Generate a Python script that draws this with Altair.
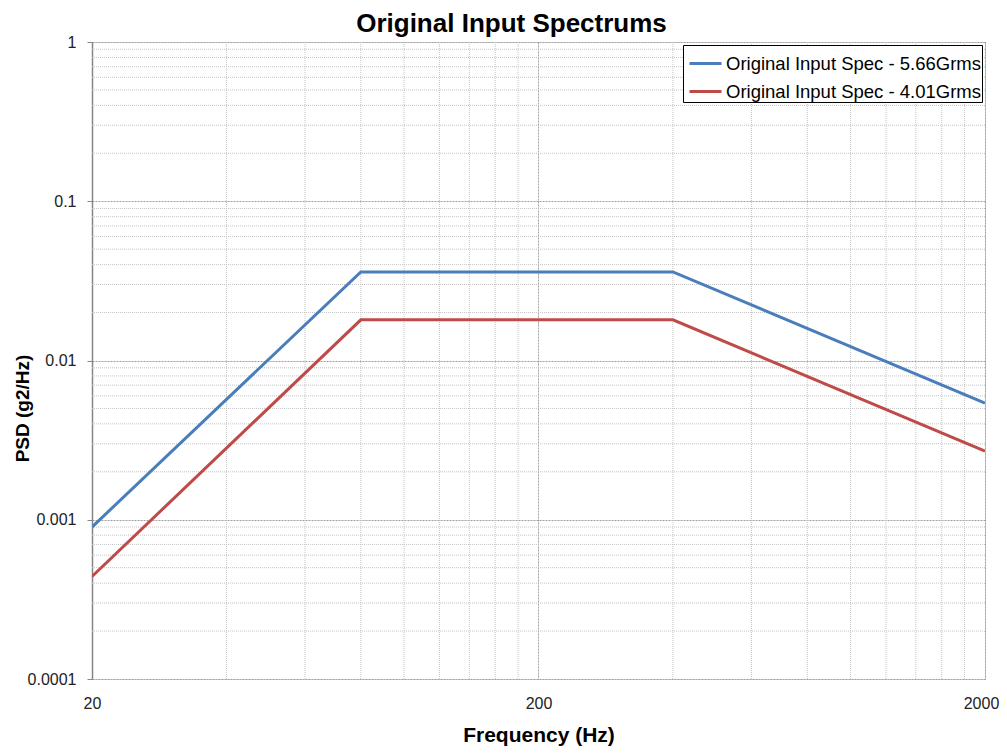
import altair as alt
import pandas as pd

# ---- data ----
freq = [20, 80, 400, 2000]
psd_566 = [0.0009, 0.036, 0.036, 0.0054]
psd_401 = [0.00044, 0.018, 0.018, 0.0027]
series_names = ["Original Input Spec - 5.66Grms", "Original Input Spec - 4.01Grms"]
series_colors = ["#4A7EBB", "#BE4B48"]

x_major = [20, 200, 2000]
x_minor = [40, 60, 80, 100, 120, 140, 160, 180,
           400, 600, 800, 1000, 1200, 1400, 1600, 1800]
y_major = [0.0001, 0.001, 0.01, 0.1, 1]
y_minor = [m * d for d in [0.0001, 0.001, 0.01, 0.1] for m in range(2, 10)]

rows = []
for name, vals in zip(series_names, [psd_566, psd_401]):
    for f, v in zip(freq, vals):
        rows.append({"series": name, "freq": f, "psd": v})
df = pd.DataFrame(rows)
df_xminor = pd.DataFrame({"freq": x_minor})
df_yminor = pd.DataFrame({"psd": y_minor})

FONT = "Liberation Sans"
GRID_MINOR = "#c4c4c4"
GRID_MAJOR = "#a0a0a0"
AXIS_GRAY = "#868686"

x_enc = alt.X(
    "freq:Q",
    scale=alt.Scale(type="log", domain=[20, 2000], nice=False),
    axis=alt.Axis(
        title="Frequency (Hz)",
        values=x_major,
        format="~g",
        grid=True,
        gridColor=GRID_MAJOR,
        gridDash=[2, 1],
        domain=False,
        ticks=False,
        tickSize=0,
        labelPadding=16,
        labelFlush=False,
        labelOffset={"condition": {"test": "datum.value >= 2000", "value": -4}, "value": 0},
        labelFont=FONT,
        labelFontSize=16,
        labelColor="#222222",
        titleFont=FONT,
        titleFontSize=21,
        titleFontWeight="bold",
        titleColor="#000000",
        titleY=62,
        titleBaseline="alphabetic",
    ),
)
y_enc = alt.Y(
    "psd:Q",
    scale=alt.Scale(type="log", domain=[0.0001, 1], nice=False),
    axis=alt.Axis(
        title="PSD (g2/Hz)",
        values=y_major,
        format="~g",
        grid=True,
        gridColor=GRID_MAJOR,
        gridDash=[2, 1],
        domain=True,
        domainColor=AXIS_GRAY,
        domainWidth=1.5,
        ticks=True,
        tickColor=AXIS_GRAY,
        tickSize=5,
        labelPadding=11,
        labelFont=FONT,
        labelFontSize=16,
        labelColor="#222222",
        titleFont=FONT,
        titleFontSize=19,
        titleFontWeight="bold",
        titleColor="#000000",
        titleAngle=270,
        titleX=-70,
        titleY=366,
        titleAlign="center",
        titleBaseline="middle",
    ),
)

xgrid = alt.Chart(df_xminor).mark_rule(
    color=GRID_MINOR, strokeDash=[1, 1], strokeWidth=1
).encode(x=x_enc)

ygrid = alt.Chart(df_yminor).mark_rule(
    color=GRID_MINOR, strokeDash=[1, 1], strokeWidth=1
).encode(y=y_enc)

lines = alt.Chart(df).mark_line(strokeWidth=3, clip=True).encode(
    x=x_enc,
    y=y_enc,
    color=alt.Color(
        "series:N",
        scale=alt.Scale(domain=series_names, range=series_colors),
        legend=alt.Legend(
            title=None,
            orient="none",
            legendX=591,
            legendY=3,
            direction="vertical",
            symbolType="stroke",
            symbolSize=1024,
            symbolStrokeWidth=3,
            symbolOffset=4,
            labelFont=FONT,
            labelFontSize=18.5,
            labelColor="#000000",
            labelOffset=3,
            labelLimit=400,
            rowPadding=1,
            padding=1,
            strokeColor="#000000",
            fillColor="#ffffff",
        ),
    ),
    order=alt.Order("freq:Q"),
)

chart = (
    alt.layer(xgrid, ygrid, lines)
    .properties(
        width=893,
        height=637,
        title=alt.TitleParams(
            "Original Input Spectrums",
            font=FONT,
            fontSize=26,
            fontWeight="bold",
            color="#000000",
            frame="group",
            dx=-27,
            dy=3,
            offset=0,
        ),
        autosize=alt.AutoSizeParams(type="none"),
        padding={"left": 84, "top": 34, "right": 14, "bottom": 67},
    )
    .configure_view(stroke=None)
    .configure(background="#ffffff")
)

chart.save("out.html", embed_options={"renderer": "svg", "actions": False})
